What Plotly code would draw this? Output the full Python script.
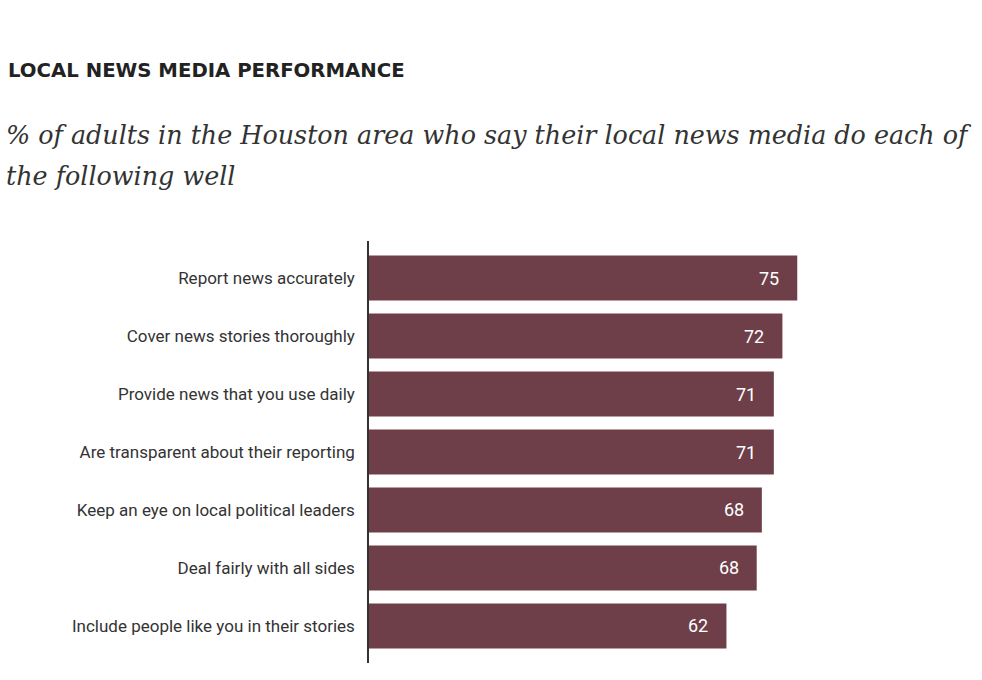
import plotly.graph_objects as go

categories = [
    "Report news accurately",
    "Cover news stories thoroughly",
    "Provide news that you use daily",
    "Are transparent about their reporting",
    "Keep an eye on local political leaders",
    "Deal fairly with all sides",
    "Include people like you in their stories",
]
values = [75.0, 72.4, 70.9, 70.9, 68.8, 67.9, 62.6]
value_labels = ["75", "72", "71", "71", "68", "68", "62"]

title_text = "LOCAL NEWS MEDIA PERFORMANCE"
subtitle_line1 = "% of adults in the Houston area who say their local news media do each of"
subtitle_line2 = "the following well"

W, H = 982, 680
L, R, T, B = 369, 42, 241, 17
PW, PH = W - L - R, H - T - B

def px_x(px):
    return (px - L) / PW

def px_y(py):
    return (H - B - py) / PH

bar_color = "#6e3f48"
label_font = "Roboto, sans-serif"

fig = go.Figure()
fig.add_trace(go.Bar(
    x=values,
    y=list(range(len(categories))),
    orientation="h",
    marker=dict(color=bar_color, line=dict(width=0)),
    hoverinfo="skip",
))

annotations = []
for i, (v, lab) in enumerate(zip(values, value_labels)):
    annotations.append(dict(
        x=v, y=i, xref="x", yref="y", text=lab, showarrow=False,
        xanchor="right", yanchor="middle", xshift=-16,
        font=dict(family=label_font, size=18, color="white"),
    ))

annotations.append(dict(
    x=px_x(6), y=px_y(70), xref="paper", yref="paper", text="<b>" + title_text + "</b>",
    showarrow=False, xanchor="left", yanchor="middle",
    font=dict(family="DejaVu Sans, sans-serif", size=19.7, color="#222222"),
))
for txt, py in [(subtitle_line1, 135), (subtitle_line2, 176)]:
    annotations.append(dict(
        x=px_x(4), y=px_y(py), xref="paper", yref="paper", text="<i>" + txt + "</i>",
        showarrow=False, xanchor="left", yanchor="middle",
        font=dict(family="DejaVu Serif, serif", size=25.4, color="#333333"),
    ))

fig.update_layout(
    width=W, height=H,
    margin=dict(l=L, r=R, t=T, b=B, pad=0),
    paper_bgcolor="white", plot_bgcolor="white",
    bargap=0.224,
    showlegend=False,
    annotations=annotations,
    xaxis=dict(range=[0, 100], showgrid=False, zeroline=False, showline=False,
               showticklabels=False, ticks=""),
    yaxis=dict(
        range=[len(categories) - 1 + 0.64, -0.64],
        tickmode="array", tickvals=list(range(len(categories))), ticktext=categories,
        showgrid=False, zeroline=False, showline=True, linecolor="#333333", linewidth=1.5,
        ticks="", ticklabelstandoff=9,
        tickfont=dict(family=label_font, size=17, color="#333333"),
    ),
)

fig.write_html("out.html")
